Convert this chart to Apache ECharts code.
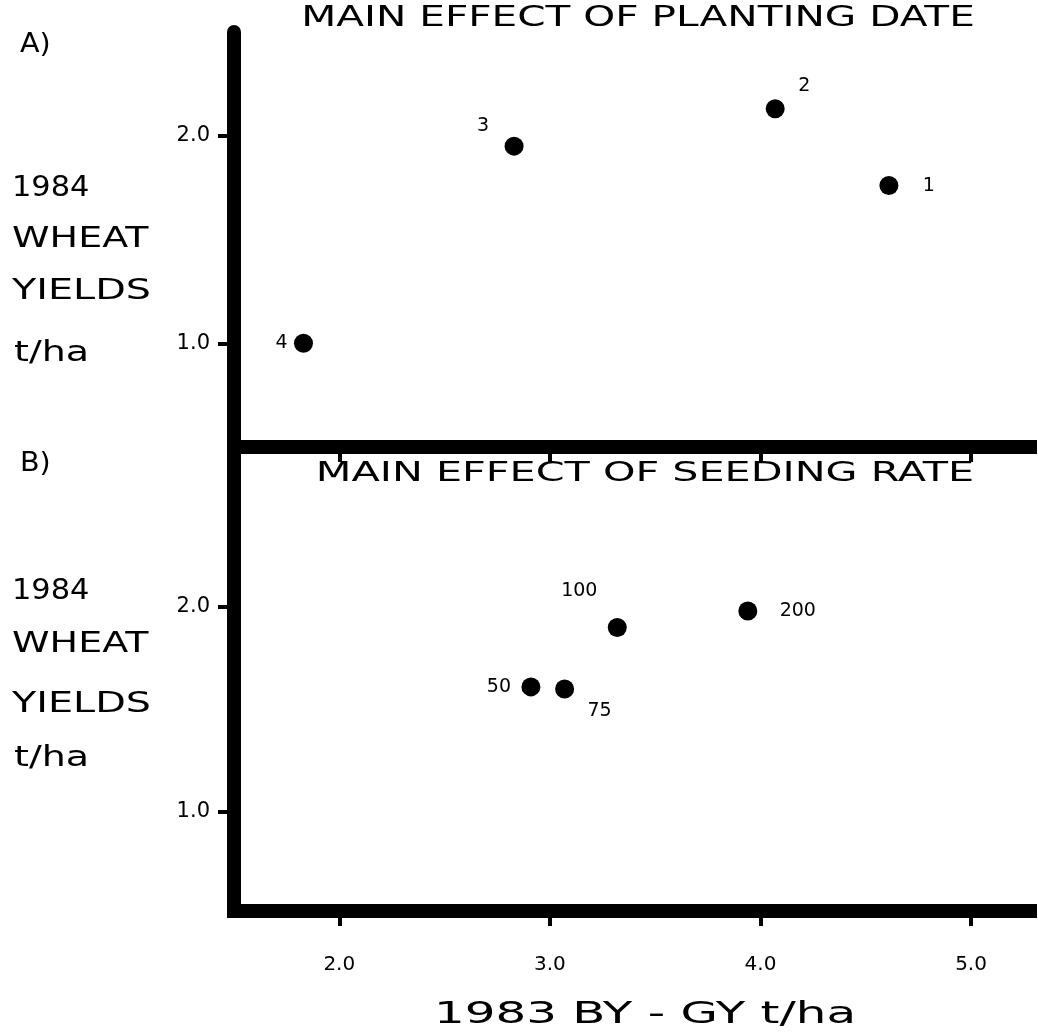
<!DOCTYPE html>
<html>
<head>
<meta charset="utf-8">
<script src="https://cdn.jsdelivr.net/npm/echarts@6/dist/echarts.min.js"></script>
<style>html,body{margin:0;padding:0;background:#fff}#c{width:1038px;height:1035px}</style>
</head>
<body>
<div id="c"></div>
<script>
// ---- data ----
const plantingLabels = ['1', '2', '3', '4'];
const plantingX = [4.61, 4.07, 2.83, 1.83];   // 1983 BY - GY t/ha
const plantingY = [1.76, 2.13, 1.95, 1.00];   // 1984 wheat yields t/ha

const seedingLabels = ['50', '75', '100', '200'];
const seedingX = [2.91, 3.07, 3.32, 3.94];
const seedingY = [1.61, 1.60, 1.90, 1.98];

const xTicks = [2.0, 3.0, 4.0, 5.0];
const yTicks = [1.0, 2.0];

// ---- layout / style (not data) ----
const plantingLabelOffset = [[40, 1], [29, -23], [-31, -20], [-22, 0]];
const seedingLabelOffset = [[-32, 0], [35, 22], [-38, -36], [50, 0]];

const FONT = '"DejaVu Sans", sans-serif';

function pts(xs, ys, labels, offs) {
  return xs.map((x, i) => ({
    value: [x, ys[i]],
    label: { show: true, position: 'inside', offset: offs[i], formatter: labels[i],
             color: '#000', opacity: 1, fontSize: 19, fontFamily: FONT }
  }));
}

function xAxis(gi, showLabels) {
  return {
    type: 'value', gridIndex: gi, min: 1.5, max: 5.28,
    splitLine: { show: false },
    axisLine: { show: true, onZero: false, lineStyle: { color: '#000', width: 14, cap: 'square' } },
    axisTick: { show: true, customValues: xTicks, length: 15, lineStyle: { color: '#000', width: 4 } },
    axisLabel: { show: showLabels, customValues: xTicks, margin: 44, color: '#000',
                 fontSize: 20, fontFamily: FONT, formatter: v => v.toFixed(1) }
  };
}
function yAxis(gi, min, max) {
  return {
    type: 'value', gridIndex: gi, min: min, max: max,
    splitLine: { show: false },
    axisLine: { show: true, onZero: false, lineStyle: { color: '#000', width: 14 } },
    axisTick: { show: true, customValues: yTicks, length: 16, lineStyle: { color: '#000', width: 4 } },
    axisLabel: { show: true, customValues: yTicks, margin: 24, color: '#000',
                 fontSize: 21, fontFamily: FONT, formatter: v => v.toFixed(1) }
  };
}

function txt(text, x, y, size, sx, align) {
  return { type: 'text', x: x, y: y, scaleX: sx, silent: true,
           style: { text: text, fill: '#000', font: size + 'px ' + FONT,
                    textAlign: align || 'left', textVerticalAlign: 'middle' } };
}

const chart = echarts.init(document.getElementById('c'), null, { renderer: 'canvas' });
chart.setOption({
  backgroundColor: '#fff',
  animation: false,
  grid: [
    { left: 234, top: 32, width: 796, height: 415 },
    { left: 234, top: 447, width: 796, height: 464 }
  ],
  xAxis: [xAxis(0, false), xAxis(1, true)],
  yAxis: [yAxis(0, 0.5, 2.5), yAxis(1, 0.517, 2.78)],
  series: [
    { type: 'scatter', xAxisIndex: 0, yAxisIndex: 0, symbol: 'circle', symbolSize: 19,
      itemStyle: { color: '#000', opacity: 1 }, data: pts(plantingX, plantingY, plantingLabels, plantingLabelOffset) },
    { type: 'scatter', xAxisIndex: 1, yAxisIndex: 1, symbol: 'circle', symbolSize: 19,
      itemStyle: { color: '#000', opacity: 1 }, data: pts(seedingX, seedingY, seedingLabels, seedingLabelOffset) }
  ],
  graphic: [
    txt('MAIN EFFECT OF PLANTING DATE', 638, 19, 28, 1.45, 'center'),
    txt('MAIN EFFECT OF SEEDING RATE', 645, 474, 27, 1.53, 'center'),
    txt('A)', 20, 45, 26, 1.1),
    txt('B)', 20, 464, 26, 1.1),
    txt('1984', 12, 188, 29, 1.05),
    txt('WHEAT', 12, 239, 29, 1.31),
    txt('YIELDS', 12, 291, 29, 1.37),
    txt('t/ha', 14, 353, 29, 1.31),
    txt('1984', 12, 591, 29, 1.05),
    txt('WHEAT', 12, 644, 29, 1.31),
    txt('YIELDS', 12, 704, 29, 1.37),
    txt('t/ha', 14, 758, 29, 1.31),
    txt('1983 BY - GY t/ha', 645, 1015, 31, 1.56, 'center')
  ]
});
</script>
</body>
</html>
